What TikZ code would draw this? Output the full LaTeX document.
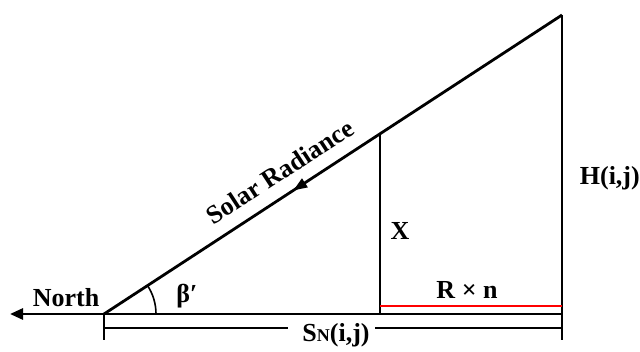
\documentclass[tikz,border=0pt]{standalone}
\usepackage{fontspec}
\setmainfont{Liberation Serif}
\usetikzlibrary{arrows.meta,decorations.markings,calc}
\begin{document}
\begin{tikzpicture}[x=1pt,y=-1pt,
  thickline/.style={line width=2.8pt},
  thinline/.style={line width=2.2pt},
  lbl/.style={font=\fontsize{26}{28}\selectfont\bfseries, inner sep=0pt}]
\useasboundingbox (0,0) rectangle (640,352);
\coordinate (A) at (104,314);
\coordinate (T) at (562,15);
\coordinate (B) at (562,314);
\coordinate (Bb) at (562,340);
\coordinate (P) at (380,134);
\coordinate (Q) at (380,314);
\coordinate (W) at (10,314);
\coordinate (Ab) at (104,340);
\coordinate (L1) at (104,328);
\coordinate (L2) at (288,328);
\coordinate (R1) at (375,328);
\coordinate (R2) at (562,328);
\coordinate (RA) at (380,306);
\coordinate (RB) at (562,306);
\coordinate (ArcS) at (156,314);
% hypotenuse with arrow
\draw[thickline, decoration={markings, mark=at position 0.587 with {\arrow{Triangle[length=14pt,width=10pt]}}}, postaction={decorate}] (T) -- (A);
% baseline and north arrow
\draw[thickline] (B) -- (A);
\draw[thickline, -{Triangle[length=13pt,width=11pt]}] (A) -- (W);
% right vertical
\draw[thickline] (T) -- (Bb);
% left tick
\draw[thickline] (A) -- (Ab);
% lower bar
\draw[thickline] (L1) -- (L2);
\draw[thickline] (R1) -- (R2);
% X vertical
\draw[thinline] (P) -- (Q);
% red line
\draw[red, line width=2pt] (RA) -- (RB);
% angle arc
\draw[line width=1.6pt] (ArcS) arc[start angle=0, end angle=-33.14, radius=52];
% labels
\node[lbl] (north) at (66,298) {North};
\node[lbl] (beta) at (187,296) {β′};
\node[lbl, rotate=33.14] (solar) at (280,172) {Solar Radiance};
\node[lbl] (xl) at (400,231) {X};
\node[lbl, anchor=east] (hl) at (640,178) {H(i,j)};
\node[lbl] (rn) at (467,290) {R × n};
\node[lbl] (sn) at (336,335) {S{\fontsize{18}{18}\selectfont N}(i,j)};
\end{tikzpicture}
\end{document}
